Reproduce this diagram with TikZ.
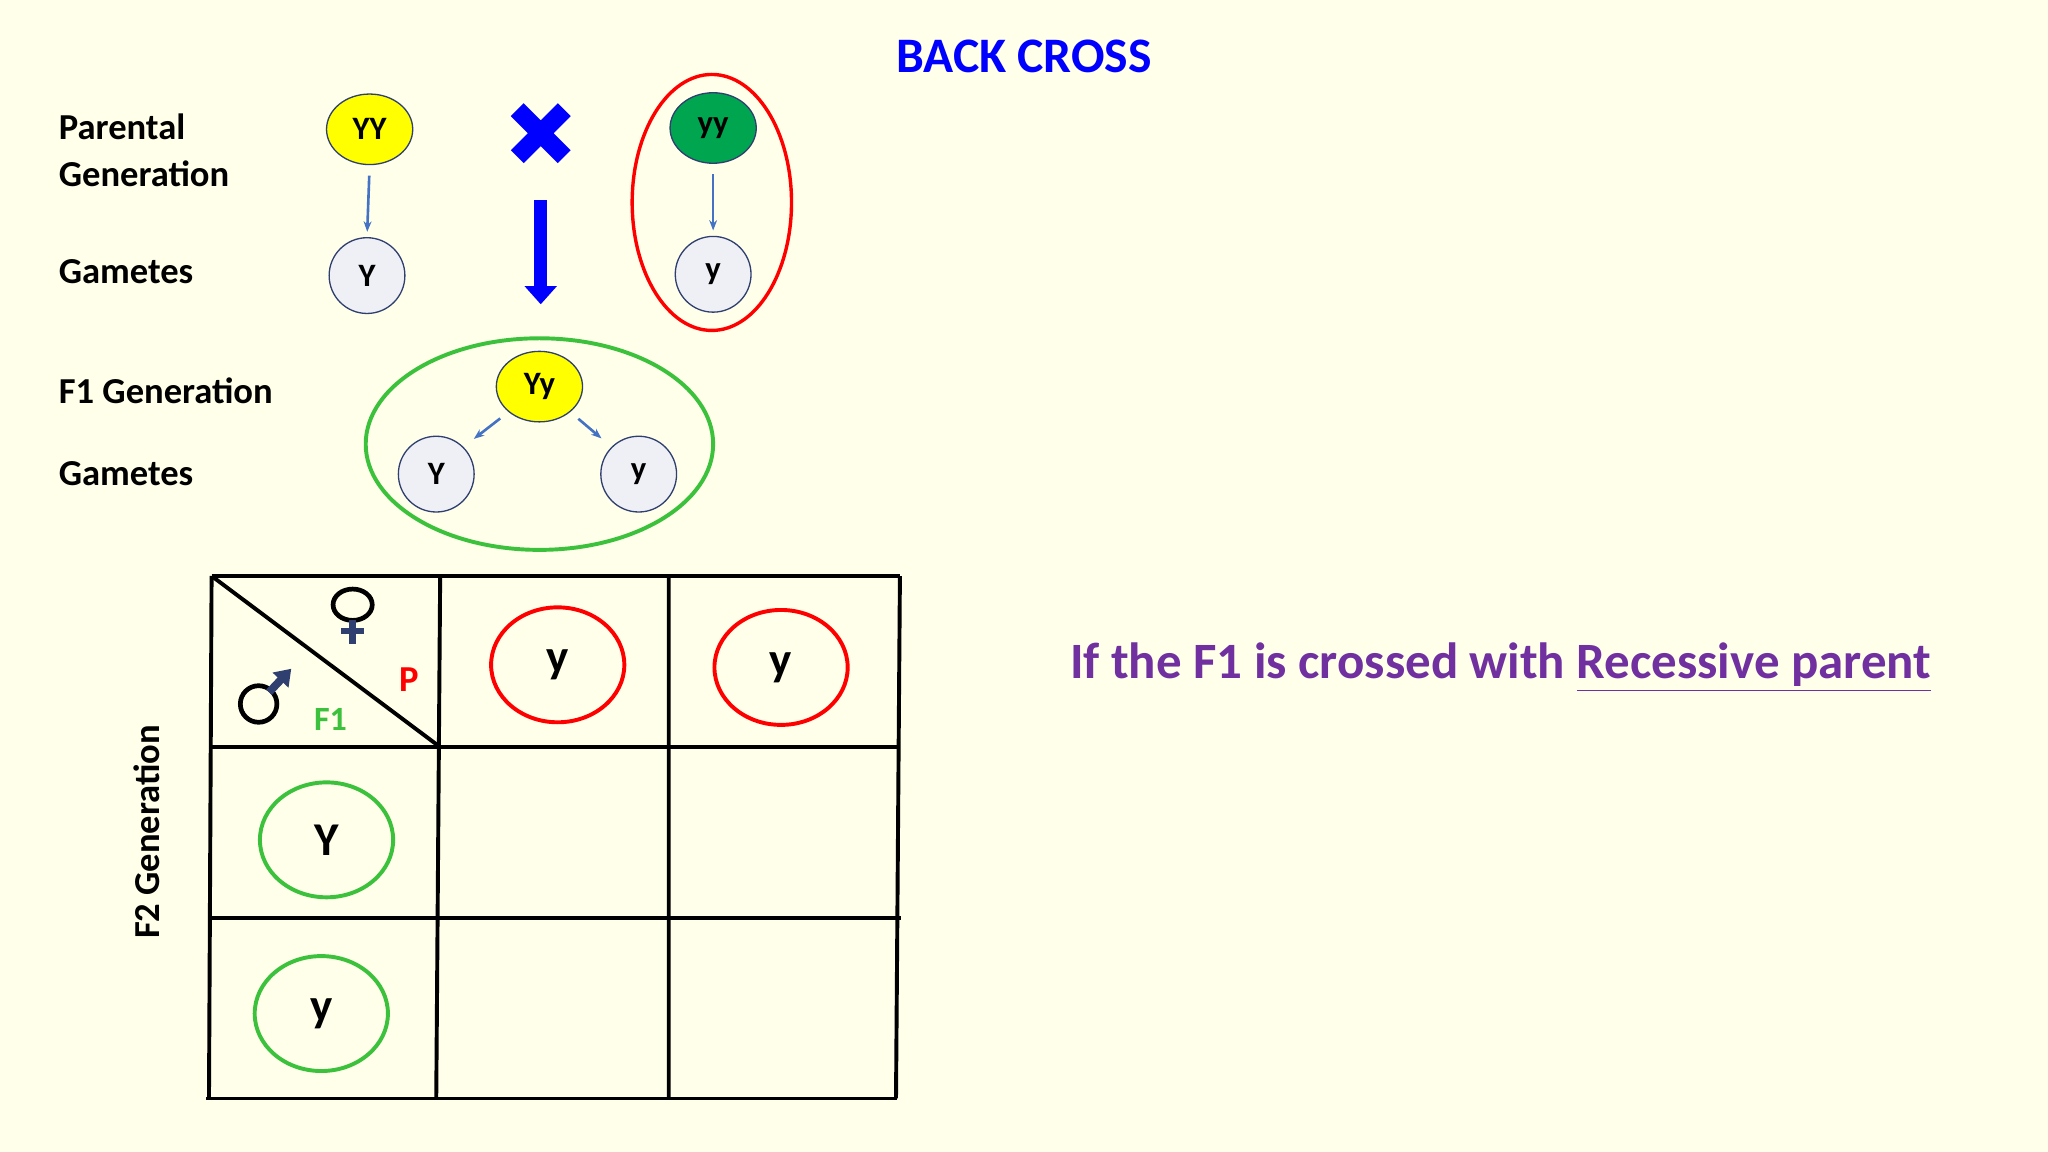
\documentclass[tikz,border=0pt]{standalone}
\usepackage{fontspec}
\setmainfont{Carlito}
\usetikzlibrary{arrows.meta,shapes.geometric}
\definecolor{bg}{HTML}{FFFFEA}
\definecolor{gam}{HTML}{EEF0F6}
\definecolor{navy}{HTML}{2F3F6F}
\definecolor{ylw}{HTML}{FFFF00}
\definecolor{grn}{HTML}{00A550}
\definecolor{arr}{HTML}{4472C4}
\definecolor{pur}{HTML}{7030A0}
\definecolor{lgrn}{HTML}{3CC13C}
\tikzset{x=0.5pt,y=-0.5pt,
 lbl/.style={font=\fontsize{14}{18}\selectfont\bfseries,anchor=west,align=left},
 geno/.style={ellipse,draw=navy,line width=0.5pt,minimum width=33pt,minimum height=27pt,inner sep=0pt,font=\fontsize{12.5}{14}\selectfont\bfseries},
 gamete/.style={circle,draw=navy,line width=0.5pt,fill=gam,minimum size=29pt,inner sep=0pt,font=\fontsize{12.5}{14}\selectfont\bfseries},
 sarr/.style={-{Stealth[length=4pt]},arr,line width=1pt},
 cell/.style={ellipse,line width=1.5pt,minimum width=51pt,minimum height=44pt,inner sep=0pt,font=\fontsize{18}{20}\selectfont\bfseries},
 grid/.style={line width=1.5pt}}
\begin{document}
\begin{tikzpicture}
\fill[bg] (0,0) rectangle (1568,882);
\useasboundingbox (0,0) rectangle (1568,882);
\node[text=blue,font=\fontsize{19}{20}\selectfont\bfseries] (title) at (784,43) {BACK CROSS};
\node[lbl] (lp) at (38,115) {Parental\\Generation};
\node[lbl] (lg1) at (38,208) {Gametes};
\node[lbl] (lf1) at (38,299) {F1 Generation};
\node[lbl] (lg2) at (38,363) {Gametes};
% parents
\node[geno,fill=ylw] (YY) at (283,99) {YY};
\node[geno,fill=grn] (yy) at (546,98) {yy};
\node[draw=red,line width=1.3pt,ellipse,minimum width=61pt,minimum height=98pt] (redring) at (545,155) {};
\node[gamete] (gY) at (281,211) {Y};
\node[gamete] (gy) at (546,210) {y};
\draw[sarr,shorten <=4pt,shorten >=2pt] (YY.south) -- (gY.north);
\draw[sarr,shorten <=4pt,shorten >=2pt] (yy.south) -- (gy.north);
% cross
\node (cross) at (414,102) {};
\draw[blue,line width=7pt] (396,84) -- (432,120) (432,84) -- (396,120);
\coordinate (bs) at (414,153); \coordinate (be) at (414,233);
\draw[-{Triangle[length=7pt,width=12pt]},blue,line width=5pt] (bs) -- (be);
% F1
\node[draw=lgrn,line width=1.5pt,ellipse,minimum width=133pt,minimum height=81pt] (f1ring) at (413,340) {};
\node[geno,fill=ylw] (Yy) at (413,296) {Yy};
\node[gamete] (fY) at (334,363) {Y};
\node[gamete] (fy) at (489,363) {y};
\draw[sarr,shorten <=4pt,shorten >=5pt] (Yy.south west) -- (fY.north east);
\draw[sarr,shorten <=4pt,shorten >=5pt] (Yy.south east) -- (fy.north west);
% grid
\draw[grid] (162,441) -- (689,441) (161,572) -- (689,572) (161,703) -- (690,703) (158,841) -- (687,841);
\draw[grid] (162,441) -- (160,841) (337,441) -- (334,841) (512,441) -- (512,841) (689,441) -- (686,841);
\draw[grid] (162,441) -- (337,572);
% female symbol
\draw[black,line width=1.8pt] (270,463) ellipse (7.5pt and 6pt);
\draw[navy,line width=2.5pt] (270,475) -- (270,493) (261,483) -- (279,483);
% male symbol
\draw[black,line width=1.8pt] (198,539) circle (7pt);
\draw[navy,line width=3pt,-{Triangle[length=6pt,width=8pt]}] (206,530) -- (223,512);
\node[text=red,font=\fontsize{14}{15}\selectfont\bfseries] (P) at (313,520) {P};
\node[text=lgrn,font=\fontsize{13}{14}\selectfont\bfseries] (F1) at (253,551) {F1};
\node[cell,draw=red] (c1) at (427,509) {y};
\node[cell,draw=red] (c2) at (598,511) {y};
\node[cell,draw=lgrn] (r1) at (250,643) {Y};
\node[cell,draw=lgrn] (r2) at (246,776) {y};
\node[rotate=90,font=\fontsize{14}{15}\selectfont\bfseries] (f2) at (112,637) {F2 Generation};
\node[text=pur,font=\fontsize{19.5}{20}\selectfont\bfseries] (note) at (1149,511) {If the F1 is crossed with \underline{Recessive parent}};
\end{tikzpicture}
\end{document}
